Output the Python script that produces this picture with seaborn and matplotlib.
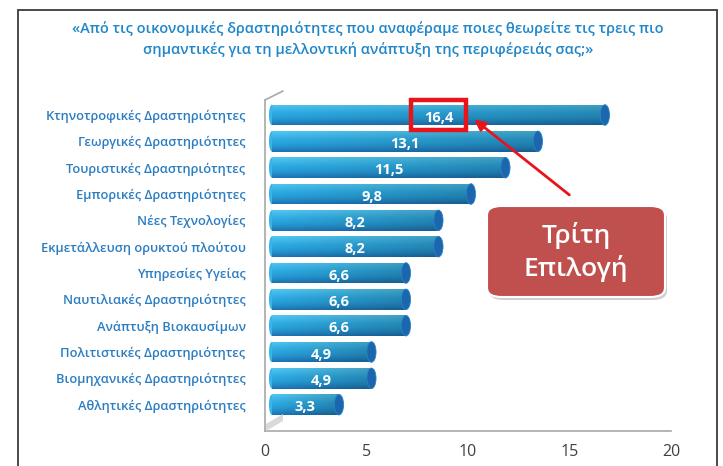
import numpy as np
import pandas as pd
import matplotlib.pyplot as plt
import matplotlib.transforms as mtrans
import seaborn as sns
from matplotlib.patches import Ellipse, FancyBboxPatch, Rectangle, Polygon
from matplotlib.lines import Line2D
from matplotlib.colors import to_rgb

# data
categories = [
    'Κτηνοτροφικές Δραστηριότητες',
    'Γεωργικές Δραστηριότητες',
    'Τουριστικές Δραστηριότητες',
    'Εμπορικές Δραστηριότητες',
    'Νέες Τεχνολογίες',
    'Εκμετάλλευση ορυκτού πλούτου',
    'Υπηρεσίες Υγείας',
    'Ναυτιλιακές Δραστηριότητες',
    'Ανάπτυξη Βιοκαυσίμων',
    'Πολιτιστικές Δραστηριότητες',
    'Βιομηχανικές Δραστηριότητες',
    'Αθλητικές Δραστηριότητες',
]
values = [16.4, 13.1, 11.5, 9.8, 8.2, 8.2, 6.6, 6.6, 6.6, 4.9, 4.9, 3.3]
x_ticks = [0, 5, 10, 15, 20]
title = ('«Από τις οικονομικές δραστηριότητες που αναφέραμε ποιες θεωρείτε τις τρεις πιο\n'
         'σημαντικές για τη μελλοντική ανάπτυξη της περιφέρειάς σας;»')
callout = 'Τρίτη\nΕπιλογή'

df = pd.DataFrame({'category': categories, 'value': values})

sns.set_style('white')
plt.rcParams['font.family'] = ['Open Sans', 'DejaVu Sans']

fig = plt.figure(figsize=(7.23, 4.66), dpi=100)
ax = fig.add_axes([265 / 723, 35 / 466, 406 / 723, 331 / 466])

sns.barplot(data=df, x='value', y='category', orient='h', width=0.78,
            color='#2a8fd0', ax=ax, zorder=2)

# 3d-ish depth shift of the bars (pixels)
depth = mtrans.ScaledTranslation(7 / 100, 0, fig.dpi_scale_trans)
shifted = ax.transData + depth

# cylinder-like gradient on every bar
top_c = np.array(to_rgb('#52c8f4'))
mid_c = np.array(to_rgb('#2ba9e1'))
bot_c = np.array(to_rgb('#1c72b4'))
ny, nx = 64, 64
t = np.linspace(0, 1, ny)[:, None, None]
a = np.clip(t / 0.45, 0, 1)
b = np.clip((t - 0.45) / 0.55, 0, 1) ** 1.5
vert = np.where(t < 0.45, (1 - a) * top_c + a * mid_c, (1 - b) * mid_c + b * bot_c)
vert = np.repeat(vert, nx, axis=1)
shade = np.linspace(1.0, 0.8, nx)[None, :, None]
grad = np.clip(vert * shade, 0, 1)

for p in ax.patches:
    x0, y0 = p.get_x(), p.get_y()
    w, h = p.get_width(), p.get_height()
    p.set_transform(shifted)
    p.set_facecolor('none')
    p.set_edgecolor('none')
    im = ax.imshow(grad, extent=[x0, x0 + w, y0 + h, y0], aspect='auto',
                   zorder=2, interpolation='bilinear')
    im.set_transform(shifted)
    im.set_clip_path(p)
    ax.add_patch(Ellipse((x0, y0 + h / 2), 0.3, h, facecolor='#38b4e8',
                         edgecolor='none', zorder=1.9, transform=shifted))
    ax.add_patch(Ellipse((x0 + w, y0 + h / 2), 0.45, h, facecolor='#1b66ac',
                         edgecolor='#2a82c6', lw=0.6, zorder=3, transform=shifted))
    ax.text(w / 2, y0 + h / 2 + 0.1, f'{w:.1f}'.replace('.', ','), color='white',
            fontsize=10.5, fontweight='bold', ha='center', va='center', zorder=4,
            transform=shifted)

ax.set_xlim(0, 20)
ax.set_ylim(12.0, -0.57)
ax.set_xticks(x_ticks)
ax.set_xticklabels([str(v) for v in x_ticks], fontsize=11.5, color='#404040')
ax.set_xlabel('')
ax.set_ylabel('')
ax.tick_params(axis='y', length=0, pad=14)
for lab in ax.get_yticklabels():
    lab.set_color('#2b7dc2')
    lab.set_fontsize(9.3)
    lab.set_fontweight('semibold')
ax.tick_params(axis='x', length=5, color='#a0a0a0', width=1, direction='out', pad=4)
ax.set_yticks(np.arange(-0.5, 12, 1), minor=True)
ax.tick_params(axis='y', which='minor', length=4, color='#a0a0a0', width=1)
sns.despine(ax=ax, top=True, right=True)
for s in ['left', 'bottom']:
    ax.spines[s].set_color('#a8a8a8')
    ax.spines[s].set_linewidth(1.2)

# wall top edge and floor side
fig.add_artist(Line2D([265 / 723, 283 / 723], [1 - 100 / 466, 1 - 91 / 466],
                      transform=fig.transFigure, color='#a8a8a8', lw=1.2))
fig.add_artist(Polygon([[266 / 723, 1 - 431 / 466], [283 / 723, 1 - 421 / 466],
                        [283 / 723, 1 - 414 / 466], [266 / 723, 1 - 424 / 466]],
                       closed=True, transform=fig.transFigure,
                       facecolor='#d9d9d9', edgecolor='none', zorder=1))

# highlight around the top value label
ax.add_patch(Rectangle((values[0] / 2 - 1.0, -0.57), 2.7, 1.15, fill=False,
                       edgecolor='#e8141b', lw=3.2, zorder=5, clip_on=False))
ax.annotate('', xy=(values[0] / 2 + 2.0, 0.1), xytext=(15.1, 3.1),
            arrowprops=dict(arrowstyle='-|>', color='#e8141b', lw=2,
                            mutation_scale=16), zorder=5)

# callout box
shadow = FancyBboxPatch((489 / 723, (466 - 300) / 466), 178 / 723, 91 / 466,
                        boxstyle='round,pad=0,rounding_size=0.02',
                        transform=fig.transFigure, facecolor='#cfcfcf',
                        edgecolor='none', zorder=5)
box = FancyBboxPatch((487 / 723, (466 - 297) / 466), 178 / 723, 91 / 466,
                     boxstyle='round,pad=0,rounding_size=0.02',
                     transform=fig.transFigure, facecolor='#c0504d',
                     edgecolor='white', lw=1.5, zorder=6)
fig.patches.extend([shadow, box])
fig.text((487 + 89) / 723, (466 - 252) / 466, callout, color='white', fontsize=19,
         fontweight='semibold', ha='center', va='center', linespacing=1.3, zorder=7)

fig.text(368 / 723, (466 - 39) / 466, title, color='#1f87c9', fontsize=10.5,
         fontweight='semibold', ha='center', va='center', linespacing=1.55)

# slide frame
fig.patches.append(Rectangle((18 / 723, -0.05), (717 - 18) / 723, (466 - 10) / 466 + 0.05,
                             transform=fig.transFigure, fill=False,
                             edgecolor='#3a3a3a', lw=1.3, zorder=0))

fig.savefig('out.png', dpi=100)
